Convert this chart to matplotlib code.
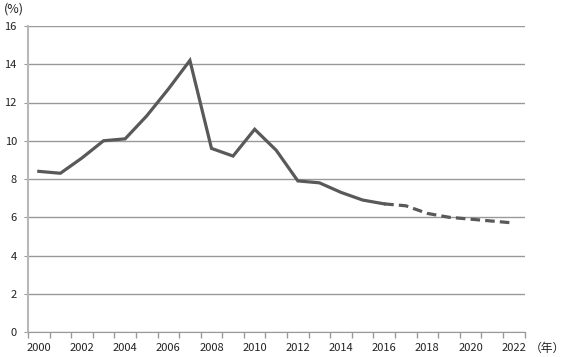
import matplotlib
matplotlib.use("Agg")
import matplotlib.pyplot as plt

plt.rcParams['font.family'] = ['Noto Sans CJK JP', 'DejaVu Sans']

years = list(range(2000, 2023))
actual = [8.4, 8.3, 9.1, 10.0, 10.1, 11.3, 12.7, 14.2, 9.6, 9.2, 10.6, 9.5,
          7.9, 7.8, 7.3, 6.9, 6.7]
forecast = [6.7, 6.6, 6.2, 6.0, 5.9, 5.8, 5.7]
yticks = [0, 2, 4, 6, 8, 10, 12, 14, 16]

fig = plt.figure(figsize=(5.67, 3.57), dpi=100)
ax = fig.add_axes([28 / 567, 25 / 357, 496.5 / 567, 306 / 357])

x_act = list(range(len(actual)))
x_fc = list(range(len(actual) - 1, len(actual) - 1 + len(forecast)))
ax.plot(x_act, actual, color="#595959", lw=2.3, solid_joinstyle="miter")
ax.plot(x_fc, forecast, color="#595959", lw=2.3, ls=(0, (3, 1.6)))

ax.set_xlim(-0.5, len(years) - 0.5)
ax.set_ylim(0, 16)
ax.set_yticks(yticks)
ax.set_yticklabels([str(v) for v in yticks])
ax.yaxis.grid(True, color="#999999", lw=1)
ax.set_axisbelow(True)

# category boundaries as tick marks, labels on every other category
ax.set_xticks([i - 0.5 for i in range(len(years) + 1)])
ax.set_xticklabels([])
ax.set_xticks(range(0, len(years), 2), minor=True)
ax.set_xticklabels([str(years[i]) for i in range(0, len(years), 2)], minor=True)
ax.tick_params(axis="x", which="major", length=4, color="#999999", width=1)
ax.tick_params(axis="x", which="minor", length=0, pad=8, labelsize=8, labelcolor="#222222")
ax.tick_params(axis="y", length=3, color="#999999", labelsize=8, labelcolor="#222222", pad=5)

for s in ["top", "right"]:
    ax.spines[s].set_visible(False)
ax.spines["left"].set_color("#b8b8b8")
ax.spines["left"].set_linewidth(1.5)
ax.spines["bottom"].set_color("#999999")

fig.text(4 / 567, 1 - 9 / 357, "(%)", fontsize=9, va="center", ha="left", color="#222222")
fig.text(565 / 567, 1 - 348 / 357, "（年）", fontsize=8.5, va="center", ha="right", color="#222222")

fig.savefig("out.png", dpi=100)
